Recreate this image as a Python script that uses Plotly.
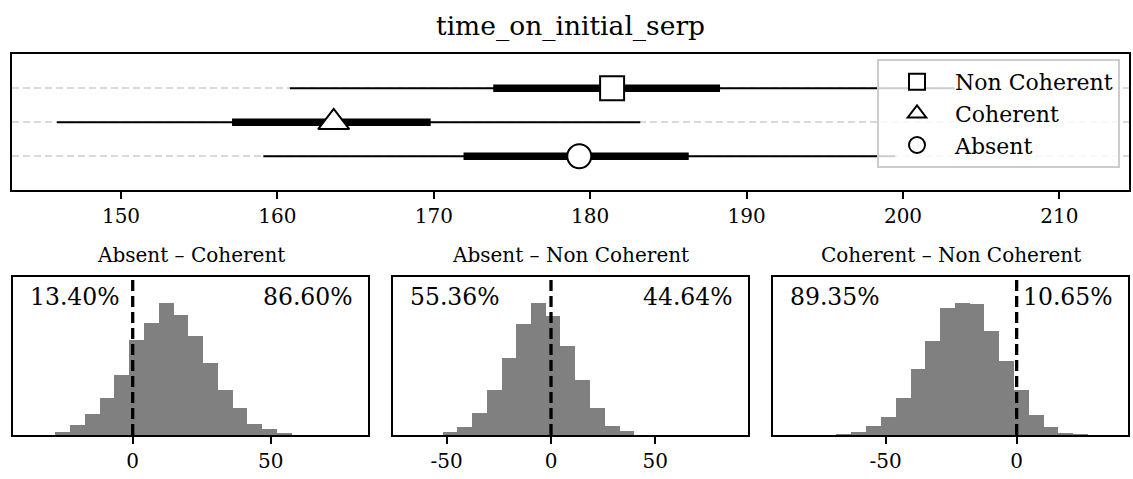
import plotly.graph_objects as go

# ---- posterior summaries per condition (rows bottom to top) ----
groups = ["Absent", "Coherent", "Non Coherent"]
group_rows = [0, 1, 2]
means = [179.3, 163.6, 181.4]
hdi95_low = [159.1, 145.9, 160.8]
hdi95_high = [199.5, 183.2, 203.3]
hdi50_low = [171.9, 157.1, 173.8]
hdi50_high = [186.3, 169.8, 188.3]
symbols = ["circle", "triangle-up", "square"]

# ---- pairwise difference posteriors (histogram bins) ----
diff_titles = ["Absent – Coherent", "Absent – Non Coherent", "Coherent – Non Coherent"]
abs_coh_edges = [-28.2, -22.8, -17.5, -12.1, -6.8, -1.4, 4.0, 9.3, 14.7,
                 20.0, 25.4, 30.8, 36.1, 41.5, 46.8, 52.2, 57.6]
abs_coh_counts = [9, 29, 63, 110, 180, 282, 335, 393, 357, 294, 215, 133, 80, 33, 18, 5]
abs_non_edges = [-52.1, -45.0, -38.0, -30.9, -23.8, -16.8, -9.7, -2.6, 4.4,
                 11.5, 18.6, 25.6, 32.7, 39.8]
abs_non_counts = [8, 22, 66, 135, 228, 330, 393, 355, 264, 163, 79, 27, 12]
coh_non_edges = [-68.9, -63.2, -57.5, -51.9, -46.3, -40.6, -35.0, -29.4, -23.7,
                 -18.1, -12.4, -6.8, -1.1, 4.5, 10.2, 15.8, 21.5, 27.1]
coh_non_counts = [4, 19, 53, 111, 234, 415, 594, 802, 830, 823, 653, 468, 281,
                  123, 49, 9, 2]
pct_below = ["13.40%", "55.36%", "89.35%"]
pct_above = ["86.60%", "44.64%", "10.65%"]
diff_tickvals = [[0, 50], [-50, 0, 50], [-50, 0]]
diff_ticktext = [["0", "50"], ["-50", "0", "50"], ["-50", "0"]]

diff_edges = [abs_coh_edges, abs_non_edges, coh_non_edges]
diff_counts = [abs_coh_counts, abs_non_counts, coh_non_counts]

# ---- layout geometry (pixels) ----
W, H = 1133, 479
FONT = "DejaVu Serif"


def xdom(a, b):
    return [a / W, b / W]


def ydom(top, bottom):
    return [1 - bottom / H, 1 - top / H]


top_x = xdom(12.3, 1128.7)
top_y = ydom(54.3, 190.3)
hist_x = [xdom(12.7, 368.3), xdom(392.7, 748.3), xdom(772.7, 1128.3)]
hist_y = ydom(277.3, 435.0)
hist_ranges = [[-43.5, 85.4], [-75.9, 94.6], [-93.1, 42.6]]

fig = go.Figure()

# interval bars and point estimates
for i, row in enumerate(group_rows):
    fig.add_trace(go.Scatter(
        x=[hdi95_low[i], hdi95_high[i]], y=[row, row], mode="lines",
        line=dict(color="black", width=2), showlegend=False, hoverinfo="skip",
        xaxis="x", yaxis="y"))
    fig.add_trace(go.Scatter(
        x=[hdi50_low[i], hdi50_high[i]], y=[row, row], mode="lines",
        line=dict(color="black", width=7.5), showlegend=False, hoverinfo="skip",
        xaxis="x", yaxis="y"))

for i in reversed(range(len(groups))):
    size = 27 if symbols[i] == "triangle-up" else 24
    fig.add_trace(go.Scatter(
        x=[means[i]], y=[group_rows[i]], mode="markers", name=groups[i],
        marker=dict(symbol=symbols[i], size=size, color="white",
                    line=dict(color="black", width=2)),
        xaxis="x", yaxis="y"))

# difference histograms
for k in range(3):
    edges = diff_edges[k]
    counts = diff_counts[k]
    widths = [edges[j + 1] - edges[j] for j in range(len(counts))]
    ax = str(k + 2)
    fig.add_trace(go.Bar(
        x=edges[:-1], y=counts, width=widths, offset=0,
        marker=dict(color="#808080", line=dict(width=0)),
        showlegend=False, hoverinfo="skip",
        xaxis="x" + ax, yaxis="y" + ax))

axis_common = dict(showline=True, linecolor="black", linewidth=1.6, mirror=True,
                   showgrid=False, zeroline=False)
tick_common = dict(ticks="outside", ticklen=7, tickwidth=1.6, tickcolor="black",
                   tickfont=dict(family=FONT, size=20, color="black"))

layout = dict(
    width=W, height=H, margin=dict(l=0, r=0, t=0, b=0),
    paper_bgcolor="white", plot_bgcolor="white",
    font=dict(family=FONT, color="black"),
    bargap=0,
    xaxis=dict(domain=top_x, range=[143.05, 214.43], anchor="y",
               tick0=150, dtick=10, **axis_common, **tick_common),
    yaxis=dict(domain=top_y, range=[-1, 3], anchor="x", showline=True,
               linecolor="black", linewidth=1.6, mirror=True, zeroline=False,
               tickvals=group_rows, showticklabels=False, ticks="",
               showgrid=True, gridcolor="#d9d9d9", gridwidth=1.7,
               griddash="7px,4px"),
    legend=dict(x=877 / W, y=1 - 59 / H, xanchor="left", yanchor="top",
                bgcolor="rgba(255,255,255,0.8)", bordercolor="#cccccc",
                borderwidth=2, font=dict(family=FONT, size=22),
                itemwidth=66, traceorder="normal"),
    showlegend=True,
)

annotations = [dict(text="time_on_initial_serp", x=570 / W, y=1 - 26 / H,
                    xref="paper", yref="paper", showarrow=False,
                    xanchor="center", yanchor="middle",
                    font=dict(family=FONT, size=26.5))]
shapes = []

for k in range(3):
    n = str(k + 2)
    layout["xaxis" + n] = dict(domain=hist_x[k], range=hist_ranges[k],
                               anchor="y" + n, tickvals=diff_tickvals[k],
                               ticktext=diff_ticktext[k],
                               **axis_common, **tick_common)
    layout["yaxis" + n] = dict(domain=hist_y, range=[0, 1.2 * max(diff_counts[k])],
                               anchor="x" + n, showticklabels=False, ticks="",
                               **axis_common)
    cx = (hist_x[k][0] + hist_x[k][1]) / 2
    annotations.append(dict(text=diff_titles[k], x=cx, y=1 - 255 / H,
                            xref="paper", yref="paper", showarrow=False,
                            xanchor="center", yanchor="middle",
                            font=dict(family=FONT, size=20)))
    annotations.append(dict(text=pct_below[k], x=0.044, y=0.875,
                            xref="x" + n + " domain", yref="y" + n + " domain",
                            showarrow=False, xanchor="left", yanchor="middle",
                            font=dict(family=FONT, size=23.5)))
    annotations.append(dict(text=pct_above[k], x=0.963, y=0.875,
                            xref="x" + n + " domain", yref="y" + n + " domain",
                            showarrow=False, xanchor="right", yanchor="middle",
                            font=dict(family=FONT, size=23.5)))
    shapes.append(dict(type="line", xref="x" + n, yref="y" + n + " domain",
                       x0=0, x1=0, y0=0, y1=1,
                       line=dict(color="black", width=3.3, dash="11px,5px")))

layout["annotations"] = annotations
layout["shapes"] = shapes
fig.update_layout(**layout)

fig.write_html("out.html")
